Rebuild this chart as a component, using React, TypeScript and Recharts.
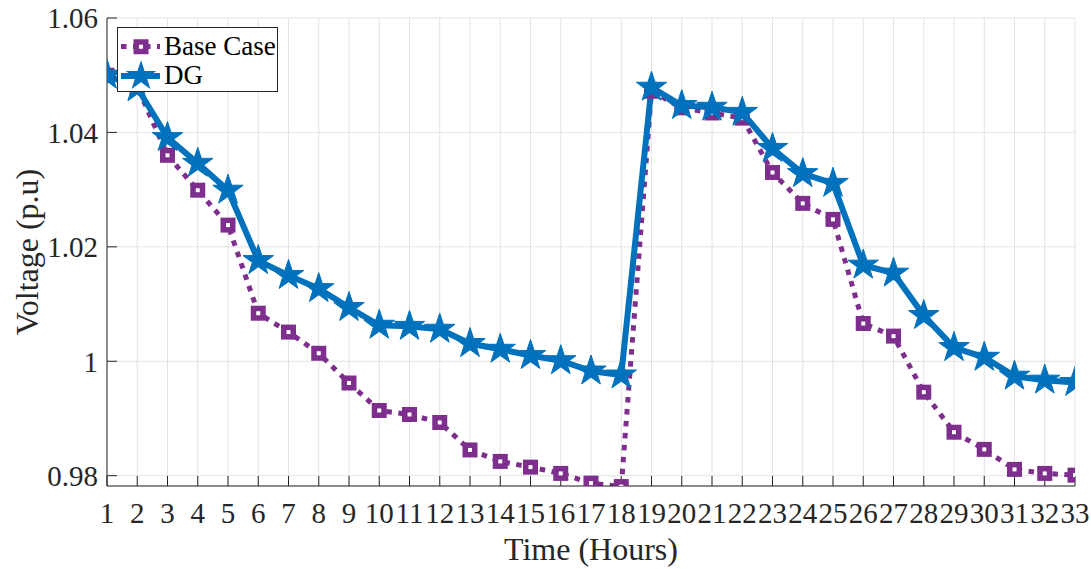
import React from 'react';
import { LineChart, Line, XAxis, YAxis, CartesianGrid, Legend } from 'recharts';

// hours on the x axis
const hours = [1, 2, 3, 4, 5, 6, 7, 8, 9, 10, 11, 12, 13, 14, 15, 16, 17, 18, 19, 20, 21, 22, 23, 24, 25, 26, 27, 28, 29, 30, 31, 32, 33];

const baseCase = [
  1.05, 1.048, 1.036, 1.0299, 1.0238, 1.0084, 1.0051, 1.0014, 0.9962, 0.9914, 0.9907,
  0.9893, 0.9845, 0.9825, 0.9815, 0.9804, 0.9787, 0.9781, 1.0472, 1.0443, 1.0434,
  1.0425, 1.033, 1.0276, 1.0248, 1.0066, 1.0044, 0.9946, 0.9876, 0.9846, 0.9811, 0.9804, 0.9801,
];

const dg = [
  1.05, 1.0478, 1.0391, 1.0346, 1.0299, 1.0176, 1.015, 1.0127, 1.0094, 1.0063, 1.0061,
  1.0056, 1.0031, 1.0021, 1.001, 1.0001, 0.9983, 0.9976, 1.0479, 1.0447, 1.0444,
  1.0435, 1.0372, 1.0328, 1.0311, 1.0168, 1.0154, 1.008, 1.0024, 1.0007, 0.9974, 0.9967, 0.9963,
];

const yTicks = [0.98, 1, 1.02, 1.04, 1.06];
const yDomain = [0.9782, 1.06];

const FONT = "'Liberation Serif', 'Times New Roman', serif";
const AXIS = '#262626';
const PURPLE = '#7E2F8E';
const BLUE = '#0072BD';

const data = hours.map((h, i) => ({ hour: h, base: baseCase[i], dg: dg[i] }));

function starPath(cx: number, cy: number, R: number, r: number) {
  let d = '';
  for (let k = 0; k < 10; k++) {
    const rad = k % 2 === 0 ? R : r;
    const a = -Math.PI / 2 + (k * Math.PI) / 5;
    d += (k === 0 ? 'M' : 'L') + (cx + rad * Math.cos(a)).toFixed(2) + ',' + (cy + rad * Math.sin(a)).toFixed(2);
  }
  return d + 'Z';
}

const SquareDot = (props: any) => {
  const { cx, cy, index } = props;
  return (
    <rect key={'sq' + index} x={cx - 4.75} y={cy - 4.75} width={9.5} height={9.5}
      fill="#fff" stroke={PURPLE} strokeWidth={5.5} />
  );
};

const StarDot = (props: any) => {
  const { cx, cy, index } = props;
  return <path key={'st' + index} d={starPath(cx, cy, 16, 6.2)} fill={BLUE} stroke={BLUE} strokeWidth={1} />;
};

const renderLegend = () => (
  <div style={{
    width: 161, height: 65, boxSizing: 'border-box', border: `1px solid ${AXIS}`,
    background: '#fff', padding: '4px 0 0 2px', fontFamily: FONT, color: '#000',
  }}>
    <div style={{ display: 'flex', alignItems: 'center', height: 29 }}>
      <svg width={42} height={29}>
        <line x1={1} y1={14.5} x2={40} y2={14.5} stroke={PURPLE} strokeWidth={5} strokeDasharray="5.5 6.5" />
        <rect x={16.25} y={10} width={9.5} height={9.5} fill="#fff" stroke={PURPLE} strokeWidth={5.5} />
      </svg>
      <span style={{ fontSize: 27, lineHeight: '29px', marginLeft: 2 }}>Base Case</span>
    </div>
    <div style={{ display: 'flex', alignItems: 'center', height: 29 }}>
      <svg width={42} height={29}>
        <line x1={1} y1={15} x2={40} y2={15} stroke={BLUE} strokeWidth={6} />
        <path d={starPath(21, 15, 16, 6.2)} fill={BLUE} />
      </svg>
      <span style={{ fontSize: 27, lineHeight: '29px', marginLeft: 2 }}>DG</span>
    </div>
  </div>
);

const tickStyle = { fontFamily: FONT, fontSize: 29, fill: AXIS };

export default function App() {
  return (
    <div style={{ position: 'absolute', left: 0, top: 0, background: '#fff' }}>
      <LineChart width={1091} height={569} data={data}
        margin={{ top: 18, right: 16, bottom: 0, left: 47 }}>
        <CartesianGrid stroke="#e2e2e2" strokeWidth={1} verticalValues={hours} />
        <XAxis dataKey="hour" type="number" domain={[1, 33]} ticks={hours} interval={0}
          allowDataOverflow height={83} tickSize={-10} tickMargin={26}
          stroke={AXIS} tick={tickStyle}
          label={{
            content: (p: any) => (
              <text x={p.viewBox.x + p.viewBox.width / 2} y={560} textAnchor="middle"
                fontFamily={FONT} fontSize={32} fill={AXIS}>Time (Hours)</text>
            ),
          }} />
        <XAxis xAxisId="top" orientation="top" type="number" domain={[1, 33]} ticks={hours}
          interval={0} allowDataOverflow height={0} tickSize={-10} tickFormatter={() => ''}
          stroke={AXIS} />
        <YAxis type="number" domain={yDomain} ticks={yTicks} allowDataOverflow width={60}
          tickSize={-10} tickMargin={19} stroke={AXIS} tick={tickStyle}
          tickFormatter={(v: number) => String(v)}
          label={{
            content: (p: any) => {
              const cy = p.viewBox.y + p.viewBox.height / 2;
              return (
                <text x={27} y={cy} transform={`rotate(-90 27 ${cy})`} textAnchor="middle"
                  dominantBaseline="central" fontFamily={FONT} fontSize={32} fill={AXIS}>
                  Voltage (p.u)
                </text>
              );
            },
          }} />
        <YAxis yAxisId="right" orientation="right" type="number" domain={yDomain} ticks={yTicks}
          allowDataOverflow width={0} tickSize={-10} tickFormatter={() => ''} stroke={AXIS} />
        <Legend layout="vertical" align="center" verticalAlign="middle" content={renderLegend}
          wrapperStyle={{ left: 117, top: 27, width: 'auto', height: 'auto' }} />
        <Line dataKey="base" name="Base Case" stroke={PURPLE} strokeWidth={5}
          strokeDasharray="5.5 6.5" dot={SquareDot} activeDot={false} isAnimationActive={false} />
        <Line dataKey="dg" name="DG" stroke={BLUE} strokeWidth={6}
          dot={StarDot} activeDot={false} isAnimationActive={false} />
      </LineChart>
    </div>
  );
}
